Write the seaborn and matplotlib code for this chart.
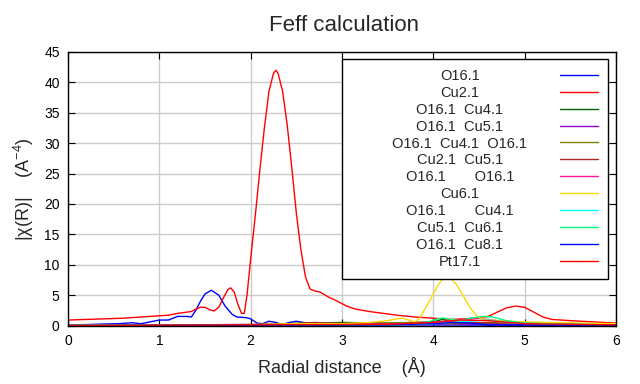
import matplotlib
matplotlib.use("Agg")
import matplotlib.pyplot as plt
import pandas as pd
import seaborn as sns

# path labels and colours (legend order)
labels = [
    "O16.1",
    "Cu2.1",
    "O16.1  Cu4.1",
    "O16.1  Cu5.1",
    "O16.1  Cu4.1  O16.1",
    "Cu2.1  Cu5.1",
    "O16.1       O16.1",
    "Cu6.1",
    "O16.1       Cu4.1",
    "Cu5.1  Cu6.1",
    "O16.1  Cu8.1",
    "Pt17.1",
]
colors = ["#0000ff", "#ff0000", "#006400", "#8b00d0", "#808000", "#a52a2a",
          "#ff1493", "#ffd700", "#00ffff", "#00ff7f", "#0000ff", "#ff0000"]

# |chi(R)|, one (r, value) list per path
r_o16 = [0.0, 0.2, 0.4, 0.55, 0.7, 0.8, 0.9, 1.0, 1.1, 1.2, 1.3, 1.35, 1.4, 1.45, 1.5, 1.57,
         1.65, 1.72, 1.8, 1.85, 1.95, 2.0, 2.07, 2.13, 2.2, 2.28, 2.34, 2.42, 2.5, 2.58, 2.65,
         2.8, 3.0, 3.5, 4.0, 5.0, 6.0]
y_o16 = [0.1, 0.15, 0.25, 0.3, 0.45, 0.3, 0.6, 0.9, 0.9, 1.5, 1.5, 1.4, 2.5, 4.0, 5.2, 5.8,
         5.0, 3.2, 1.8, 1.4, 1.3, 1.1, 0.4, 0.3, 0.7, 0.5, 0.15, 0.5, 0.7, 0.5, 0.3,
         0.2, 0.1, 0.1, 0.1, 0.05, 0.05]

r_cu2 = [0.0, 0.2, 0.4, 0.6, 0.8, 1.0, 1.1, 1.2, 1.3, 1.35, 1.4, 1.45, 1.5, 1.55, 1.6, 1.65,
         1.7, 1.75, 1.78, 1.82, 1.86, 1.9, 1.93, 1.96, 2.0, 2.05, 2.1, 2.15, 2.2, 2.25, 2.275,
         2.3, 2.35, 2.4, 2.45, 2.5, 2.55, 2.6, 2.65, 2.7, 2.76, 2.85, 2.95, 3.05, 3.15, 3.3,
         3.45, 3.6, 3.8, 4.0, 4.2, 4.35, 4.5, 4.6, 4.7, 4.8, 4.9, 5.0, 5.1, 5.2, 5.3, 5.5,
         5.75, 6.0]
y_cu2 = [0.9, 1.0, 1.1, 1.2, 1.4, 1.6, 1.7, 2.0, 2.2, 2.3, 2.7, 3.0, 3.0, 2.6, 2.4, 3.0,
         4.5, 5.9, 6.2, 5.5, 3.5, 2.0, 2.0, 5.0, 11.0, 18.0, 25.5, 32.5, 38.5, 41.5, 42.0,
         41.5, 38.5, 33.0, 26.0, 18.5, 12.5, 8.0, 6.0, 5.7, 5.5, 4.7, 4.0, 3.2, 2.7, 2.3,
         2.0, 1.7, 1.4, 1.2, 1.0, 1.1, 1.3, 1.5, 2.2, 2.9, 3.2, 3.0, 2.2, 1.4, 1.0, 0.8,
         0.6, 0.4]

r_o16_cu4 = [0.0, 2.0, 2.6, 3.0, 3.5, 4.0, 4.1, 4.2, 4.5, 5.0, 6.0]
y_o16_cu4 = [0.0, 0.1, 0.4, 0.5, 0.4, 0.6, 1.0, 0.6, 0.3, 0.2, 0.1]

r_o16_cu5 = [0.0, 2.5, 3.0, 3.5, 4.0, 4.5, 6.0]
y_o16_cu5 = [0.0, 0.2, 0.3, 0.2, 0.3, 0.2, 0.1]

r_o16_cu4_o16 = [0.0, 2.3, 2.8, 3.2, 3.8, 4.2, 4.8, 5.3, 6.0]
y_o16_cu4_o16 = [0.0, 0.1, 0.4, 0.3, 0.5, 0.3, 0.6, 0.3, 0.1]

r_cu2_cu5 = [0.0, 2.3, 2.7, 3.0, 3.5, 4.4, 5.0, 6.0]
y_cu2_cu5 = [0.0, 0.2, 0.5, 0.3, 0.2, 0.5, 0.3, 0.2]

r_o16_o16 = [0.0, 1.5, 2.0, 3.0, 3.8, 4.3, 4.5, 4.7, 5.2, 6.0]
y_o16_o16 = [0.0, 0.05, 0.1, 0.2, 0.3, 0.9, 1.2, 0.8, 0.3, 0.1]

r_cu6 = [0.0, 1.5, 2.0, 2.5, 3.0, 3.3, 3.5, 3.6, 3.67, 3.75, 3.8, 3.85, 3.9, 3.95, 4.0,
         4.05, 4.1, 4.14, 4.2, 4.25, 4.3, 4.35, 4.4, 4.45, 4.5, 4.6, 4.8, 5.0, 5.3, 5.6, 6.0]
y_cu6 = [0.0, 0.05, 0.15, 0.3, 0.3, 0.5, 0.8, 1.1, 1.2, 0.8, 0.6, 1.2, 2.5, 3.8, 5.2,
         6.6, 7.6, 7.9, 7.6, 6.8, 5.6, 4.3, 3.0, 2.0, 1.3, 0.9, 0.7, 0.6, 0.5, 0.4, 0.3]

r_o16_x_cu4 = [0.0, 3.5, 4.0, 4.3, 4.6, 4.8, 5.2, 6.0]
y_o16_x_cu4 = [0.0, 0.1, 0.3, 0.6, 0.9, 0.5, 0.2, 0.1]

r_cu5_cu6 = [0.0, 3.5, 3.9, 4.0, 4.1, 4.2, 4.3, 4.4, 4.55, 4.65, 4.8, 5.0, 5.5, 6.0]
y_cu5_cu6 = [0.0, 0.1, 0.3, 0.9, 1.25, 1.0, 0.8, 1.2, 1.5, 1.4, 0.8, 0.4, 0.2, 0.1]

r_o16_cu8 = [0.0, 3.5, 4.0, 4.2, 4.4, 4.6, 6.0]
y_o16_cu8 = [0.0, 0.1, 0.3, 0.5, 0.4, 0.1, 0.05]

r_pt17 = [0.0, 3.5, 4.0, 4.3, 4.6, 5.0, 6.0]
y_pt17 = [0.0, 0.2, 0.5, 0.9, 0.8, 0.3, 0.1]

paths = [(r_o16, y_o16), (r_cu2, y_cu2), (r_o16_cu4, y_o16_cu4), (r_o16_cu5, y_o16_cu5),
         (r_o16_cu4_o16, y_o16_cu4_o16), (r_cu2_cu5, y_cu2_cu5), (r_o16_o16, y_o16_o16),
         (r_cu6, y_cu6), (r_o16_x_cu4, y_o16_x_cu4), (r_cu5_cu6, y_cu5_cu6),
         (r_o16_cu8, y_o16_cu8), (r_pt17, y_pt17)]

# long-form table for seaborn
rows = []
for i, (rr, yy) in enumerate(paths):
    for r, y in zip(rr, yy):
        rows.append({"r": r, "chi": y, "path": i})
df = pd.DataFrame(rows)

sns.set_theme(style="ticks")
plt.rcParams["font.family"] = ["Liberation Sans", "DejaVu Sans"]
plt.rcParams["mathtext.default"] = "regular"

fig, ax = plt.subplots(figsize=(6.4, 3.84), dpi=100)
fig.subplots_adjust(left=0.10625, right=0.9625, bottom=0.1523, top=0.8646)

sns.lineplot(data=df, x="r", y="chi", hue="path", palette=colors, estimator=None,
             sort=False, linewidth=1.0, legend=False, ax=ax)

ax.set_xlim(0, 6)
ax.set_ylim(0, 45)
ax.set_xticks(range(0, 7))
ax.set_yticks(range(0, 46, 5))
ax.grid(True, color="#cccccc", linewidth=1.0)
ax.set_axisbelow(True)
for s in ax.spines.values():
    s.set_color("black")
    s.set_linewidth(1.0)
ax.tick_params(direction="in", length=5, width=0.8, top=True, right=True,
               labelsize=10, colors="black", pad=6)

ax.set_xlabel("Radial distance    (Å)", fontsize=13, va="baseline")
ax.xaxis.set_label_coords(0.5, -0.1737)
ax.set_ylabel("|χ(R)|    (A$^{-4}$)", fontsize=13, va="center")
ax.yaxis.set_label_coords(-0.0803, 0.5)
fig.suptitle("Feff calculation", x=0.5375, y=0.9193, va="baseline", fontsize=16)

leg = ax.legend(handles=ax.lines, labels=labels, loc="upper right",
                bbox_to_anchor=(0.9854, 0.9756), borderaxespad=0, markerfirst=False,
                fontsize=10.5, handlelength=2.6, handletextpad=5.0, labelspacing=0.2,
                borderpad=0.7, fancybox=False, framealpha=1, edgecolor="black")
leg.get_frame().set_linewidth(1.0)

# centre the label texts in their column
fig.canvas.draw()
lb = leg.get_window_extent()
target = lb.x0 + 0.443 * lb.width
for t in leg.get_texts():
    bb = t.get_window_extent()
    t.set_x(target - (bb.x0 + bb.x1) / 2)

fig.savefig("out.png", dpi=100)
